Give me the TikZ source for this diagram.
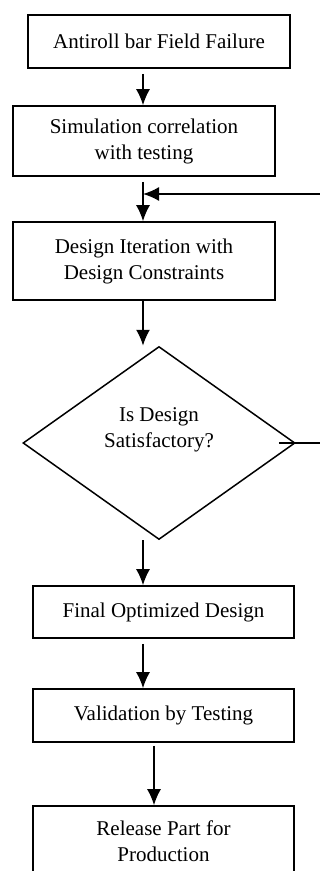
\documentclass[tikz,border=0pt]{standalone}
\usepackage{fontspec}
\setmainfont{Liberation Serif}
\usetikzlibrary{arrows.meta,shapes.geometric}
\tikzset{
    every node/.append style={align=center},
    box/.style={rectangle,draw=black,line width=1.6pt,minimum width=262pt,inner sep=0pt},
    decision/.style={diamond,draw=black,line width=1.5pt,minimum width=272pt,
        minimum height=193pt,aspect=1.41,inner sep=0pt},
    arr/.style={-{Latex[length=16pt,width=14pt]},line width=1.6pt},
}

\begin{document}
\begin{tikzpicture}[x=1pt,y=-1pt,font=\fontsize{21}{26}\selectfont]
    \useasboundingbox (0,0) rectangle (320,871);
    % boxes down the page
    \node[box,minimum height=53pt]             (fail)    at (159,  41.5) {Antiroll bar Field Failure};
    \node[box,minimum height=70pt]             (corr)    at (144, 141)   {Simulation correlation\\with testing};
    \node[box,minimum height=78pt]             (iter)    at (144, 261)   {Design Iteration with\\Design Constraints};
    \node[decision]                            (sat)     at (159, 443)   {};
    \node                                      (satq)    at (159, 430)   {Is Design\\Satisfactory?};
    \node[box,minimum height=52pt,minimum width=261pt] (final)   at (163.5, 612) {Final Optimized Design};
    \node[box,minimum height=53pt,minimum width=261pt] (valid)   at (163.5, 715.5) {Validation by Testing};
    \node[box,minimum height=70pt,minimum width=261pt] (release) at (163.5, 841) {Release Part for\\Production};
    % helpers for the arrow lines and the loop
    \coordinate (spine)  at (143,0);
    \coordinate (spine2) at (154,0);
    \coordinate (join)   at (143,194);
    \coordinate (back)   at (330,443);

    \draw[arr,shorten <=5pt] (fail.south -| spine) -- (corr.north -| spine);
    \draw[arr,shorten <=5pt] (corr.south -| spine) -- (iter.north -| spine);
    \draw[arr] (iter.south -| spine) -- (sat.north -| spine);
    \draw[arr] (sat.south -| spine) -- (final.north -| spine);
    \draw[arr,shorten <=5pt] (final.south -| spine) -- (valid.north -| spine);
    \draw[arr,shorten <=3pt] (valid.south -| spine2) -- (release.north -| spine2);

    % not satisfactory: back to the design iteration
    \draw[arr] ([xshift=-17pt]sat.east) -- (back) |- (join);
\end{tikzpicture}
\end{document}
